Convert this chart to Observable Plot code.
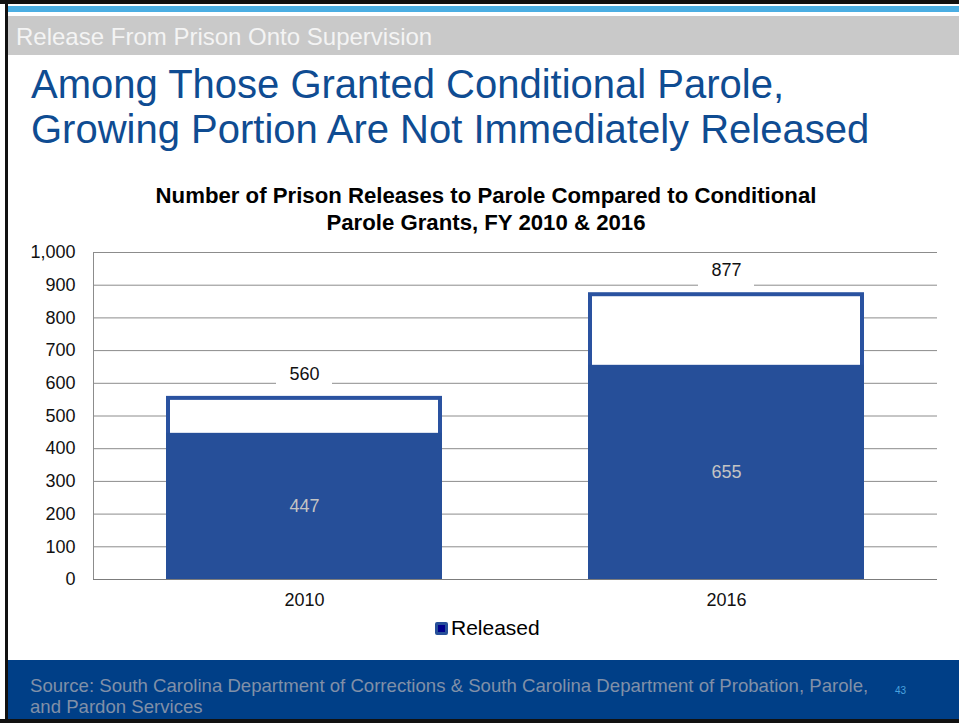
<!DOCTYPE html>
<html>
<head>
<meta charset="utf-8">
<script src="https://cdn.jsdelivr.net/npm/d3@7"></script>
<script src="https://cdn.jsdelivr.net/npm/@observablehq/plot@0.6"></script>
<style>
  html, body { margin: 0; padding: 0; background: #fff; }
  #slide { position: relative; width: 959px; height: 723px; overflow: hidden; font-family: "Liberation Sans", Arial, sans-serif; background: #fff; }
  .abs { position: absolute; }
  #topblack { left: 0; top: 0; width: 959px; height: 4px; background: #111; }
  #leftblack { left: 5px; top: 0; width: 3px; height: 723px; background: #111; }
  #bottomblack { left: 0; top: 719px; width: 959px; height: 4px; background: #111; }
  #stripe { left: 8px; top: 6px; width: 951px; height: 6px; background: #4aaee3; }
  #header { left: 8px; top: 16px; width: 951px; height: 39px; background: #c9c9c9; }
  #headertext { left: 16px; top: 25px; font-size: 24px; color: #f4f4f4; white-space: nowrap; line-height: 24px; }
  #title { left: 31px; top: 62px; font-size: 40px; color: #0f4c92; line-height: 45px; white-space: nowrap; }
  #charttitle { left: 0; top: 182px; width: 972px; text-align: center; font-size: 22.2px; font-weight: bold; color: #000; line-height: 27px; }
  #chart { left: 0; top: 240px; }
  #legend { left: 435px; top: 616px; display: flex; align-items: center; font-size: 21px; color: #000; }
  #legend .sw { width: 7px; height: 7px; background: #00008b; border: 3px solid #264f99; border-radius: 2px; margin-right: 3px; box-sizing: content-box; }
  #footer { left: 8px; top: 660px; width: 951px; height: 59px; background: #003f87; }
  #source { left: 30px; top: 675px; font-size: 18.6px; color: #8090a8; line-height: 21px; white-space: nowrap; }
  #pagenum { left: 895px; top: 685px; font-size: 10px; color: #4aa3df; }
</style>
</head>
<body>
<div id="slide">
  <div class="abs" id="topblack"></div>
  <div class="abs" id="stripe"></div>
  <div class="abs" id="header"></div>
  <div class="abs" id="headertext">Release From Prison Onto Supervision</div>
  <div class="abs" id="title">Among Those Granted Conditional Parole,<br>Growing Portion Are Not Immediately Released</div>
  <div class="abs" id="charttitle">Number of Prison Releases to Parole Compared to Conditional<br>Parole Grants, FY 2010 &amp; 2016</div>
  <div class="abs" id="chart"></div>
  <div class="abs" id="legend"><span class="sw"></span><span>Released</span></div>
  <div class="abs" id="footer"></div>
  <div class="abs" id="source">Source: South Carolina Department of Corrections &amp; South Carolina Department of Probation, Parole,<br>and Pardon Services</div>
  <div class="abs" id="pagenum">43</div>
  <div class="abs" id="leftblack"></div>
  <div class="abs" id="bottomblack"></div>
</div>
<script>
const years = ["2010", "2016"];
const grantsTotal = [560, 877];
const releasedCount = [447, 655];
const yTicks = [0, 100, 200, 300, 400, 500, 600, 700, 800, 900, 1000];

const data = years.map((year, i) => ({ year, grants: grantsTotal[i], released: releasedCount[i] }));

const blue = "#264f99";
const chart = Plot.plot({
  width: 959,
  height: 375,
  marginLeft: 93,
  marginRight: 22,
  marginTop: 12,
  marginBottom: 36,
  style: { fontFamily: "'Liberation Sans', Arial, sans-serif", fontSize: "18px", color: "#111", background: "transparent", overflow: "visible" },
  x: { domain: years, paddingInner: 0.346, paddingOuter: 0.173, align: 0.5, label: null, tickSize: 0, tickPadding: 14 },
  y: { domain: [0, 1000], ticks: yTicks, tickFormat: d3.format(","), label: null, tickSize: 0, tickPadding: 18 },
  marks: [
    Plot.ruleY(yTicks, { stroke: "#8c8c8c", strokeWidth: 1 }),
    Plot.barY(data, { x: "year", y1: "grants", y2: "grants", fill: "white", insetTop: -39, insetBottom: 5, insetLeft: 110, insetRight: 110 }),
    Plot.barY(data, { x: "year", y: "grants", fill: "white", stroke: "#2a52a0", strokeWidth: 4, inset: 2 }),
    Plot.barY(data, { x: "year", y: "released", fill: blue }),
    Plot.ruleY([0], { stroke: "#7c7c7c", strokeWidth: 1.2 }),
    Plot.text(data, { x: "year", y: "grants", dy: -22, text: d => d3.format(",")(d.grants), fill: "#111", fontSize: 18 }),
    Plot.text(data, { x: "year", y: d => d.released / 2, text: d => d3.format(",")(d.released), fill: "#c4c4c4", fontSize: 18 })
  ]
});

// left vertical axis line, placed from the plot's own scales
const xs = chart.scale("x"), ys = chart.scale("y");
d3.select(chart).append("line")
  .attr("x1", xs.range[0] + 0.5).attr("x2", xs.range[0] + 0.5)
  .attr("y1", ys.apply(1000)).attr("y2", ys.apply(0))
  .attr("stroke", "#8c8c8c");

document.getElementById("chart").appendChild(chart);
</script>
</body>
</html>
